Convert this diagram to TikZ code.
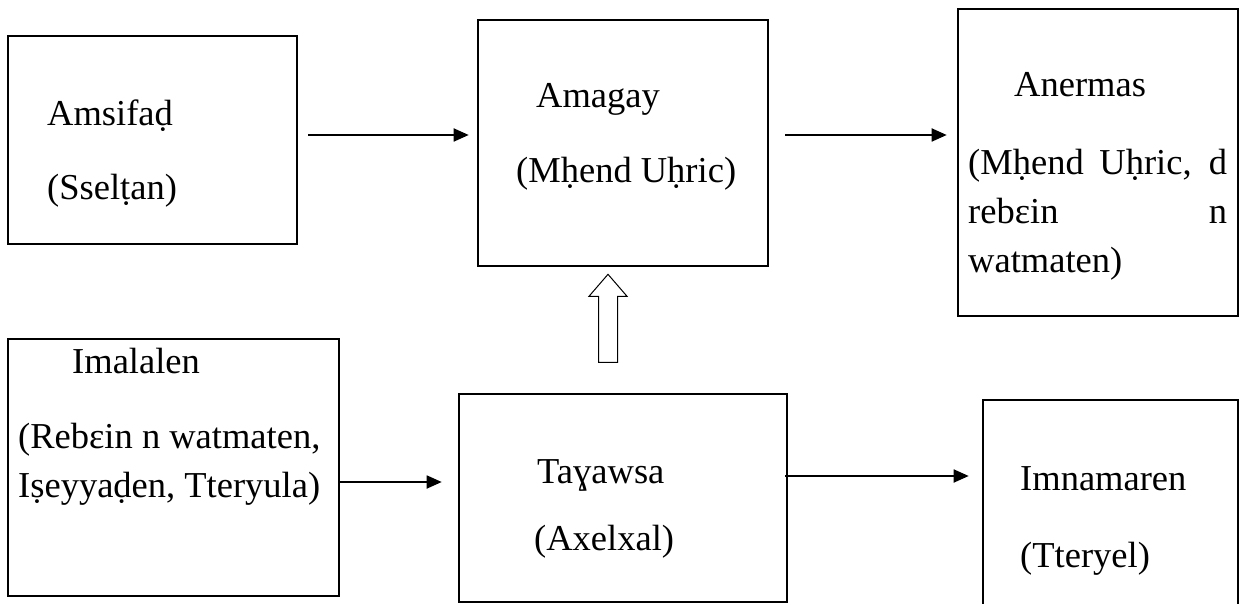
\documentclass[tikz,border=0pt]{standalone}
\usepackage{fontspec}
\setmainfont{Liberation Serif}
\usetikzlibrary{arrows.meta}
\tikzset{
  box/.style={draw, line width=2.6pt, rectangle, inner sep=0pt},
  txt/.style={anchor=base west, inner sep=0pt, font=\fontsize{36.5}{44}\selectfont},
  flow/.style={line width=1.8pt, -{Triangle[length=15pt,width=13pt]}},
  hollow/.style={draw, line width=1pt, fill=white, line join=miter}
}
\begin{document}
\begin{tikzpicture}[x=1pt,y=-1pt]
\clip (0,0) rectangle (1239,604);
\fill[white] (0,0) rectangle (1239,604);

% boxes
\node[box, minimum width=289pt, minimum height=208pt] (amsifad) at (152.5,140) {};
\node[box, minimum width=290pt, minimum height=246pt] (amagay) at (623,143) {};
\node[box, minimum width=280pt, minimum height=307pt] (anermas) at (1098,162.5) {};
\node[box, minimum width=331pt, minimum height=257pt] (imalalen) at (173.5,467.5) {};
\node[box, minimum width=328pt, minimum height=208pt] (tayawsa) at (623,498) {};
\node[box, minimum width=255pt, minimum height=260pt] (imnamaren) at (1110.5,530) {};

% labels
\node[txt] (t1a) at (47,126) {Amsifaḍ};
\node[txt] (t1b) at (47,200) {(Sselṭan)};
\node[txt] (t2a) at (536,108) {Amagay};
\node[txt] (t2b) at (516,183) {(Mḥend Uḥric)};
\node[txt] (t3a) at (1014,97) {Anermas};
\node[txt] (t3b) at (968,175) {\makebox[259pt][s]{(Mḥend Uḥric, d}};
\node[txt] (t3c) at (968,223) {\makebox[259pt][s]{rebɛin n}};
\node[txt] (t3d) at (968,272) {watmaten)};
\node[txt] (t4a) at (72,373) {Imalalen};
\node[txt] (t4b) at (18,448) {(Rebɛin n watmaten,};
\node[txt] (t4c) at (18,497) {Iṣeyyaḍen, Tteryula)};
\node[txt] (t5a) at (537,483) {Taɣawsa};
\node[txt] (t5b) at (534,550) {(Axelxal)};
\node[txt] (t6a) at (1020,490) {Imnamaren};
\node[txt] (t6b) at (1020,567) {(Tteryel)};

% connectors
\draw[flow, shorten <=10pt, shorten >=8pt] (amsifad.east |- 0,135) -- (amagay.west |- 0,135);
\draw[flow, shorten <=16pt, shorten >=10pt] (amagay.east |- 0,135) -- (anermas.west |- 0,135);
\draw[flow, shorten >=16pt] (imalalen.east |- 0,482) -- (tayawsa.west |- 0,482);
\draw[flow, shorten <=-3pt, shorten >=13pt] (tayawsa.east |- 0,476) -- (imnamaren.west |- 0,476);

% hollow block arrow from Tayawsa up to Amagay
\coordinate (tip) at ([yshift=-7pt]amagay.south -| 608,0);
\draw[hollow] (tip) -- ++(19,22) -- ++(-9.5,0) -- ++(0,66) -- ++(-19,0)
  -- ++(0,-66) -- ++(-9.5,0) -- cycle;
\end{tikzpicture}
\end{document}
